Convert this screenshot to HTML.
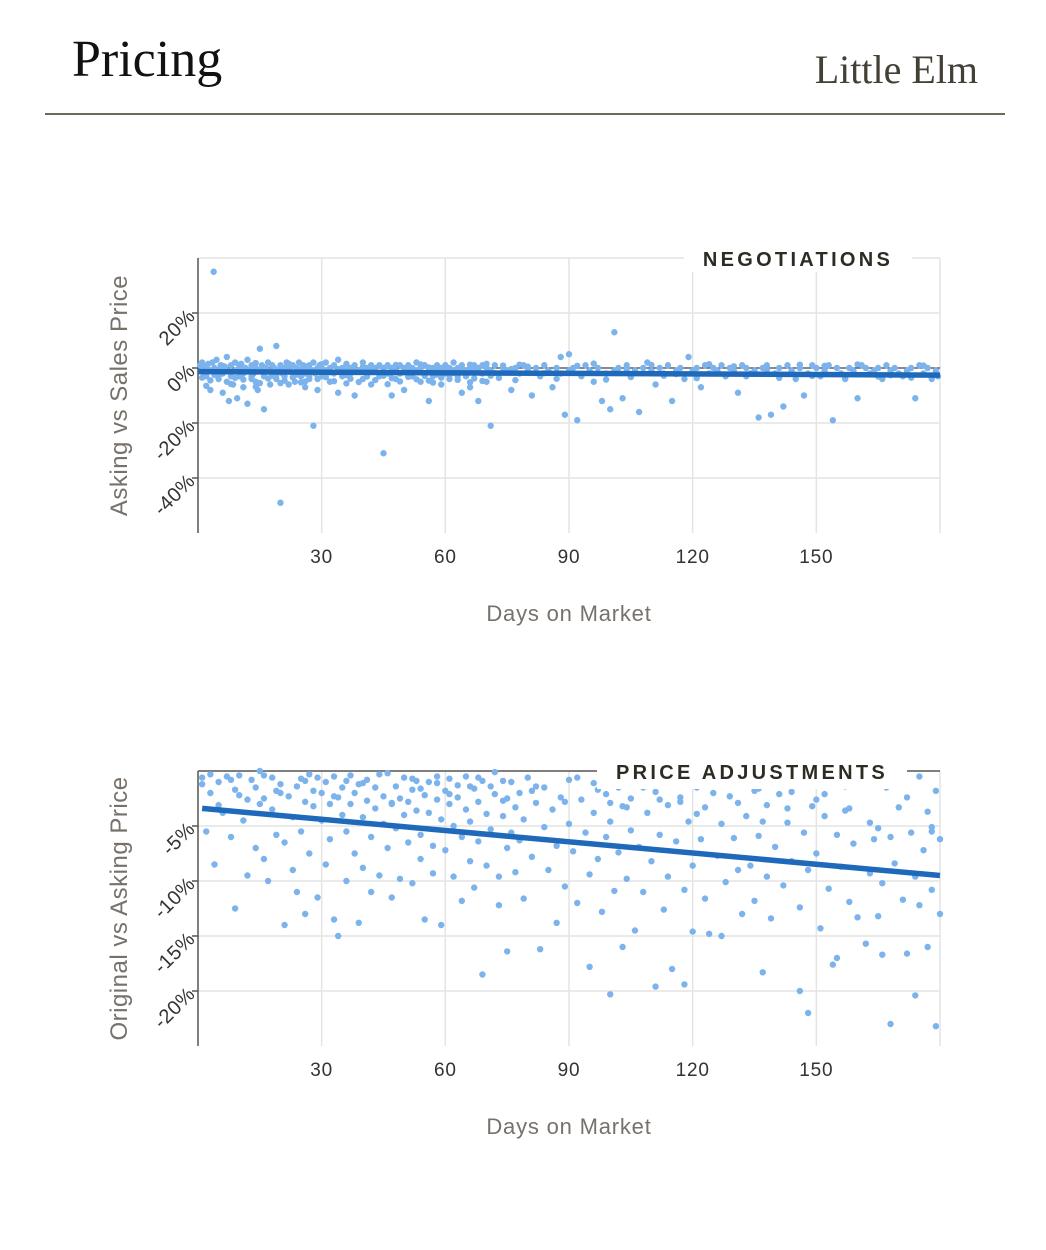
<!DOCTYPE html>
<html><head><meta charset="utf-8">
<style>
html,body{margin:0;padding:0;background:#fff;}
body{width:1046px;height:1250px;position:relative;overflow:hidden;font-family:"Liberation Sans",sans-serif;}
.title{position:absolute;left:72px;top:30px;font-family:"Liberation Serif",serif;font-size:52px;color:#111;}
.place{position:absolute;right:68px;top:46px;font-family:"Liberation Serif",serif;font-size:40px;color:#444036;}
.rule{position:absolute;left:45px;top:113px;width:960px;height:2px;background:#6e6a5a;}
svg{position:absolute;left:0;top:0;}
</style></head><body>
<div class="title">Pricing</div>
<div class="place">Little Elm</div>
<div class="rule"></div>
<svg id="chart" width="1046" height="1250"></svg>
<script>
const xTicks=[30,60,90,120,150];
const negTicks=[20,0,-20,-40];
const negTickLabels=["20%","0%","-20%","-40%"];
const adjTicks=[-5,-10,-15,-20];
const adjTickLabels=["-5%","-10%","-15%","-20%"];
const negTrend=[[0,-1.3],[180,-2.6]];
const adjTrend=[[1,-3.4],[180,-9.5]];
const negData=[[0.5,1],[1,-0.5],[1,2],[1.5,-2],[2,0.5],[2,-3],[2.5,1.5],[3,-1],[3,-8],[3.5,2],[3.8,35],[4,-2],[4,0],[4.5,3],[5,-1],[5,-4],[5.5,1],[6,-9],[6,-2],[6.5,0.5],[7,4],[7,-1],[7.5,-12],[8,-3],[8,1],[8.5,-6],[9,-1],[9,2],[9.5,-11],[10,0],[10,-3],[10.5,1.5],[11,-2],[11,-7],[11.5,0],[12,-13],[12,3],[12.5,-1],[13,-4],[13,1],[13.5,-2],[14,0],[14,-5],[14.5,-8],[15,7],[15,-1],[15.5,1],[16,-3],[16,-15],[16.5,0],[17,-1],[17,2],[17.5,-6],[18,-2],[18,1],[18.5,0],[19,-4],[19,8],[19.5,-1],[20,-49],[20,1],[20.5,-2],[21,0],[21,-3],[21.5,2],[22,-1],[22,-6],[22.5,0.5],[23,-2],[23,1],[23.5,-5],[24,0],[24,-1],[24.5,2],[25,-3],[25,-0.5],[25.5,1],[26,-2],[26,-7],[26.5,0],[27,1],[27,-4],[27.5,-1],[28,-21],[28,2],[28.5,-2],[29,0],[29,-8],[29.5,1],[30,-3],[30,0],[31,-1],[31,2],[32,-5],[32,0],[33,1],[33,-2],[34,-9],[34,3],[35,0],[35,-3],[36,-1],[36,1.5],[37,-2],[37,0],[38,-10],[38,1],[39,-1],[40,-4],[40,2],[41,0],[41,-2],[42,1],[42,-6],[43,-1],[43,0],[44,-3],[44,1],[45,-31],[45,0],[46,-2],[46,1],[47,-10],[47,0],[48,-1],[48,-4],[49,1],[49,-2],[50,0],[50,-8],[51,-1],[51,1],[52,-3],[52,0],[53,2],[53,-1],[54,-5],[54,0],[55,-2],[55,1],[56,-12],[56,-1],[57,0],[57,-3],[58,1],[58,-1],[59,-6],[59,0],[60,-2],[60,1],[61,0],[61,-4],[62,-1],[62,2],[63,-3],[63,0],[64,-9],[64,1],[65,-1],[65,-2],[66,0],[66,-7],[67,1],[67,-1],[68,-12],[68,0],[69,-2],[69,1],[70,0],[70,-5],[71,-21],[71,-1],[72,1],[73,-2],[74,0],[75,-1],[76,-8],[77,0],[78,-2],[79,1],[80,-1],[81,-10],[82,0],[83,-3],[84,1],[85,-1],[86,-7],[87,0],[88,4],[88,-2],[89,-17],[90,5],[90,-1],[91,0],[92,-19],[93,-3],[94,1],[95,-1],[96,-5],[97,0],[98,-12],[99,-2],[100,-15],[101,13],[101,-1],[102,0],[103,-11],[104,1],[105,-3],[106,-1],[107,-16],[108,0],[109,2],[110,-1],[111,-6],[112,0],[113,-2],[114,1],[115,-12],[116,-1],[117,0],[118,-4],[119,4],[120,-1],[121,0],[122,-7],[123,1],[124,-2],[125,0],[126,-1],[127,1],[128,-3],[129,0],[130,-1],[131,-9],[132,1],[133,0],[134,-2],[135,-1],[136,-18],[137,0],[138,1],[139,-17],[140,-2],[141,0],[142,-14],[143,1],[144,-1],[145,-4],[146,0],[147,-10],[148,-2],[149,1],[150,0],[151,-3],[152,-1],[153,1],[154,-19],[155,0],[156,-2],[157,-4],[158,0],[159,-1],[160,-11],[161,1],[162,0],[163,-2],[164,-1],[165,0],[166,-4],[167,1],[168,-1],[169,0],[170,-2],[171,-3],[172,-1],[173,0],[174,-11],[175,1],[176,-2],[177,0],[178,-4],[179,-1],[179.5,-3],
[2,-1.5],[4,-2.5],[6,0.8],[8,-1.8],[10,1.2],[12,-0.7],[14,1.8],[16,-1.2],[18,-2.8],[20,-0.3],[22,1.6],[24,-2.4],[26,0.6],[28,-0.9],[30,1.4],[32,-1.6],[34,-0.4],[36,-2.6],[38,-0.8],[40,0.4],[42,-1.4],[44,-2.2],[46,0.7],[48,1.1],[50,-1.3],[52,-2.1],[54,1.3],[56,0.2],[58,-2.4],[60,-0.6],[62,-1.7],[64,-0.2],[66,1.2],[68,-1.1],[70,1.5],[72,-1.8],[74,0.9],[76,-0.4],[78,1.2],[80,0.5],[84,-1.9],[92,0.8],[96,1.6],[104,-0.4],[110,1.1],[116,-2.2],[124,1.4],[130,0.6],[138,-0.6],[146,1.2],[152,0.8],[160,1.3],[168,-2.6],[176,0.9],
[1,-3.5],[3,-4.5],[5,-2.8],[7,-5],[9,-3.6],[11,-4.2],[13,-3],[15,-5.5],[17,-3.8],[19,-2.6],[21,-4.6],[23,-3.4],[25,-5.2],[27,-2.9],[29,-4],[31,-3.3],[33,-4.8],[35,-2.7],[37,-3.9],[39,-5.1],[41,-3.1],[43,-4.4],[45,-2.8],[47,-3.7],[49,-4.9],[51,-3.2],[53,-4.1],[55,-2.9],[57,-5.3],[59,-3.5],[61,-2.6],[63,-4.3],[65,-3],[67,-3.8],[69,-4.7],[71,-2.8],[73,-3.6],[77,-4.4],[83,-2.9],[87,-3.9],[93,-2.7],[99,-4.2],[105,-3.3],[113,-2.8],[121,-3.7],[133,-3],[141,-3.6],[149,-2.9],[157,-3.8],[165,-3.1],[173,-3.5],[179,-2.4],[2,-6.5],[8,-5.8],[14,-6.8],[20,-5.5],[26,-4.9],[36,-5.6],[46,-5.9],[56,-4.6],[66,-5.2]];
const adjData=[[1,-0.6],[1,-1.2],[2,-5.5],[3,-0.3],[3,-2],[4,-8.5],[5,-1],[6,-3.8],[7,-0.5],[8,-0.8],[8,-6],[9,-12.5],[10,-0.4],[10,-2.2],[11,-4.5],[12,-9.5],[13,-0.8],[14,-1.5],[14,-7],[15,0],[15,-3],[16,-2.5],[16,-8],[17,-10],[18,-0.6],[18,-3.5],[19,-5.8],[20,-1.2],[20,-2],[21,-6.5],[21,-14],[22,-2.3],[23,-4.2],[23,-9],[24,-1.4],[24,-11],[25,-0.7],[25,-5.5],[26,-2.8],[26,-13],[27,-0.3],[27,-7.5],[28,-3.2],[28,-1.8],[29,-11.5],[30,-2],[30,-4.5],[31,-1],[31,-8.5],[32,-3],[32,-6.2],[33,-0.5],[33,-13.5],[34,-2.4],[34,-15],[35,-4],[35,-1.5],[36,-5.5],[36,-10],[37,-0.4],[37,-3],[38,-2],[38,-7.5],[39,-1.2],[39,-13.8],[40,-4.2],[40,-8.8],[41,-0.8],[41,-2.7],[42,-6],[42,-11],[43,-1.5],[43,-3.4],[44,-9.5],[45,-2.3],[45,-4.8],[46,-0.2],[46,-7],[47,-3],[47,-11.5],[48,-1.4],[48,-5.2],[49,-2.5],[49,-9.8],[50,-0.6],[50,-4],[51,-2.8],[51,-6.5],[52,-1.7],[52,-10.2],[53,-3.6],[53,-0.9],[54,-5.8],[54,-8],[55,-2.2],[55,-13.5],[56,-1],[56,-3.8],[57,-6.8],[57,-9.3],[58,-0.5],[58,-2.6],[59,-4.4],[59,-14],[60,-1.8],[60,-7.2],[61,-3],[61,-0.7],[62,-5],[62,-9.6],[63,-2.4],[63,-1.3],[64,-6],[64,-11.8],[65,-0.5],[65,-3.5],[66,-8.2],[66,-4.6],[67,-1.6],[67,-10.6],[68,-2.8],[68,-6.4],[69,-18.5],[69,-0.9],[70,-3.9],[70,-8.6],[71,-1.4],[71,-5.3],[72,-2.1],[72,-0.1],[73,-9.6],[73,-12.2],[74,-4.1],[74,-2.7],[75,-7],[75,-16.4],[76,-1],[76,-5.6],[77,-3.3],[77,-9.2],[78,-6.3],[78,-2],[79,-11.6],[79,-4.4],[80,-0.6],[81,-7.8],[82,-2.9],[83,-16.2],[84,-5.1],[84,-1.5],[85,-9],[86,-3.5],[87,-13.8],[87,-6.8],[88,-2.4],[89,-10.5],[90,-4.8],[90,-0.8],[91,-7.3],[92,-12],[93,-2.6],[94,-5.6],[95,-17.8],[95,-9.4],[96,-1.1],[96,-3.8],[97,-8],[98,-12.8],[99,-2.1],[99,-6],[100,-20.3],[100,-4.6],[101,-10.9],[102,-1.5],[102,-7.4],[103,-3.2],[103,-16],[104,-9.8],[105,-5.4],[105,-2.5],[106,-14.5],[107,-0.8],[107,-6.9],[108,-11],[109,-3.8],[110,-8.2],[111,-1.9],[111,-19.6],[112,-5.8],[113,-12.6],[114,-3.1],[114,-9.6],[115,-18],[116,-6.4],[116,-1.3],[117,-2.8],[118,-10.8],[118,-19.4],[119,-4.6],[120,-8.6],[120,-14.6],[121,-1.5],[122,-6.2],[123,-3.3],[123,-11.6],[124,-14.8],[125,-2],[126,-7.7],[127,-4.8],[127,-15],[128,-10.1],[129,-0.8],[130,-6.1],[131,-2.9],[131,-9],[132,-13],[133,-4.1],[134,-8.6],[135,-1.8],[135,-11.8],[136,-5.9],[137,-18.3],[138,-3.1],[138,-9.6],[139,-13.4],[140,-6.9],[141,-2.1],[142,-10.4],[143,-4.7],[144,-8.2],[145,-1.3],[146,-12.4],[146,-20],[147,-5.6],[148,-22],[148,-9],[149,-3.2],[150,-7.5],[151,-14.3],[152,-2.1],[153,-10.7],[154,-17.6],[155,-5.8],[155,-17],[156,-8.7],[157,-3.6],[158,-11.9],[159,-6.6],[160,-13.3],[161,-1.1],[162,-15.7],[163,-4.7],[163,-9.3],[164,-6.2],[165,-13.2],[166,-10.2],[166,-16.7],[167,-1.5],[168,-6],[168,-23],[169,-8.4],[170,-3.3],[171,-11.7],[172,-16.6],[173,-5.6],[174,-9.6],[174,-20.4],[175,-0.5],[175,-12.2],[176,-7.2],[177,-3.7],[177,-16],[178,-5.5],[178,-10.8],[179,-23.2],[179,-1.8],[180,-6.2],[180,-13],
[5,-3.1],[12,-2.6],[19,-1.8],[26,-0.9],[33,-2.3],[40,-1.1],[47,-2.9],[54,-1.6],[61,-2.1],[68,-0.6],[75,-2.5],[82,-1.4],[89,-2.8],[97,-1.7],[104,-3.3],[112,-2.6],[121,-3.9],[129,-2.3],[137,-4.6],[144,-1.9],[152,-4.1],[158,-3.4],[165,-5.2],[172,-2.4],[178,-5.1],[9,-1.7],[16,-0.4],[29,-0.6],[36,-0.9],[44,-0.3],[52,-0.7],[58,-1.1],[66,-1.4],[74,-0.9],[81,-1.8],[92,-0.6],[100,-2.9],[108,-1.5],[117,-2.4],[127,-0.7],[136,-1.6],[143,-3.4],[150,-2.6],[157,-1.4]];

const svg=document.getElementById('chart');
const NS='http://www.w3.org/2000/svg';
function mk(tag,attrs,parent){const e=document.createElementNS(NS,tag);for(const k in attrs)e.setAttribute(k,attrs[k]);(parent||svg).appendChild(e);return e;}
const X0=198,X1=940;
function xs(d){return X0+(X1-X0)*d/180;}

function drawChart(cfg){
  const g=mk('g',{});
  
  
  const ys=v=>cfg.top+(cfg.bottom-cfg.top)*(cfg.vmax-v)/(cfg.vmax-cfg.vmin);
  xTicks.forEach(t=>{const l=mk('line',{x1:xs(t),x2:xs(t),y1:cfg.top,y2:cfg.bottom,stroke:'#e4e4e4','stroke-width':1.5},g);
    });
  mk('line',{x1:X1,x2:X1,y1:cfg.top,y2:cfg.bottom,stroke:'#e4e4e4','stroke-width':1.5},g);
  cfg.ticks.forEach((t,i)=>{const y=ys(t);
    const l=mk('line',{x1:X0,x2:X1,y1:y,y2:y,stroke:(t===0?'#444':'#e4e4e4'),'stroke-width':(t===0?1.3:1.5)},g);
    
    mk('line',{x1:X0-6,x2:X0,y1:y,y2:y,stroke:'#555','stroke-width':1.5},g);
    const tx=mk('text',{x:X0-6,y:y+6,'text-anchor':'end','font-size':20,fill:'#333','letter-spacing':'0.5',transform:`rotate(-45 ${X0-6} ${y})`},g);
    tx.textContent=cfg.tickLabels[i];
    
  });
  mk('line',{x1:X0,x2:X1,y1:cfg.top,y2:cfg.top,stroke:(cfg.topLine?'#555':'#e4e4e4'),'stroke-width':1.5},g);
  mk('line',{x1:X0,x2:X0,y1:cfg.top,y2:cfg.bottom,stroke:'#555','stroke-width':1.5},g);
  xTicks.forEach(t=>{const tx=mk('text',{x:xs(t),y:cfg.bottom+30,'text-anchor':'middle','font-size':19,fill:'#333','letter-spacing':'0.8'},g);
    tx.textContent=t;});
  cfg.data.forEach(p=>{const c=mk('circle',{cx:xs(p[0]),cy:ys(p[1]),r:3.2,fill:'#7db3ec'},g);
    });
  const tl=mk('line',{x1:xs(cfg.trend[0][0]),y1:ys(cfg.trend[0][1]),x2:xs(cfg.trend[1][0]),y2:ys(cfg.trend[1][1]),stroke:'#1f69bb','stroke-width':5.5},g);
  
  const lb=mk('rect',{x:cfg.legX,y:cfg.top-14,width:cfg.legW,height:cfg.legH,fill:'#fff'},g);
  
  const lt=mk('text',{x:cfg.legX+cfg.legW/2,y:cfg.top+8,'text-anchor':'middle','font-size':20,'font-weight':'bold',fill:'#2e2c22','letter-spacing':'3.3'},g);
  lt.textContent=cfg.legend;
  const yt=mk('text',{x:0,y:0,'text-anchor':'middle','font-size':24,fill:'#77716a','letter-spacing':'0.5',transform:`translate(127 ${(cfg.top+cfg.bottom)/2}) rotate(-90)`},g);
  yt.textContent=cfg.yTitle;
  const xt=mk('text',{x:569,y:cfg.bottom+88,'text-anchor':'middle','font-size':22,fill:'#77716a','letter-spacing':'0.8'},g);
  xt.textContent='Days on Market';
}
drawChart({name:'negotiations-chart',top:258,bottom:533,vmax:40,vmin:-60,ticks:negTicks,tickLabels:negTickLabels,data:negData,trend:negTrend,legend:'NEGOTIATIONS',legX:684,legW:228,legH:28,yTitle:'Asking vs Sales Price',topLine:false});
drawChart({name:'price-adjustments-chart',top:771,bottom:1046,vmax:0,vmin:-25,ticks:adjTicks,tickLabels:adjTickLabels,data:adjData,trend:adjTrend,legend:'PRICE ADJUSTMENTS',legX:597,legW:310,legH:32,yTitle:'Original vs Asking Price',topLine:true});
</script>
</body></html>
